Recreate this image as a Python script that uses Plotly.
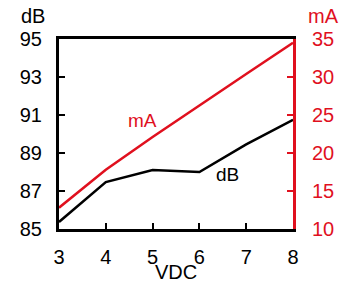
import plotly.graph_objects as go

vdc = [3, 4, 5, 6, 7, 8]
db_values = [85.37, 87.47, 88.1, 88.0, 89.45, 90.75]
ma_values = [12.8, 17.8, 22.1, 26.3, 30.4, 34.5]
db_ticks = [85, 87, 89, 91, 93, 95]
ma_ticks = [10, 15, 20, 25, 30, 35]
x_ticks = [3, 4, 5, 6, 7, 8]

RED = "#e0101e"
FONT = "Liberation Sans, Arial, sans-serif"

L, R, T, B = 59, 55, 39, 56
W, H = 348, 285
pw = W - L - R
ph = H - T - B


def px(xp):
    return (xp - L) / pw


def py(yp):
    return (H - B - yp) / ph


fig = go.Figure()
fig.add_trace(go.Scatter(x=vdc, y=db_values, mode="lines",
                         line=dict(color="black", width=2.5), yaxis="y"))
fig.add_trace(go.Scatter(x=vdc, y=ma_values, mode="lines",
                         line=dict(color=RED, width=2.5), yaxis="y2"))

fig.update_layout(
    width=W, height=H,
    margin=dict(l=L, r=R, t=T, b=B),
    paper_bgcolor="white", plot_bgcolor="white",
    showlegend=False,
    font=dict(family=FONT, size=20, color="black"),
    xaxis=dict(range=[3, 8], tickvals=x_ticks, showgrid=False, zeroline=False,
               showline=True, linecolor="black", linewidth=3, mirror=True,
               ticks="inside", ticklen=6, tickwidth=2, tickcolor="black",
               ticklabelstandoff=8, automargin=False),
    yaxis=dict(range=[85, 95], tickvals=db_ticks, showgrid=False, zeroline=False,
               showline=True, linecolor="black", linewidth=3,
               ticks="inside", ticklen=6, tickwidth=2, tickcolor="black",
               ticklabelstandoff=10, automargin=False),
    yaxis2=dict(range=[10, 35], tickvals=ma_ticks, overlaying="y", side="right",
                showgrid=False, zeroline=False,
                showline=True, linecolor=RED, linewidth=3,
                ticks="inside", ticklen=6, tickwidth=2, tickcolor=RED,
                tickfont=dict(color=RED), ticklabelstandoff=12, automargin=False),
)

fig.add_annotation(text="dB", x=px(33), y=py(16), xref="paper", yref="paper",
                   showarrow=False, xanchor="center", yanchor="middle",
                   font=dict(size=20, color="black"))
fig.add_annotation(text="mA", x=px(323), y=py(16), xref="paper", yref="paper",
                   showarrow=False, xanchor="center", yanchor="middle",
                   font=dict(size=20, color=RED))
fig.add_annotation(text="VDC", x=px(176), y=py(272), xref="paper", yref="paper",
                   showarrow=False, xanchor="center", yanchor="middle",
                   font=dict(size=20, color="black"))
fig.add_annotation(text="mA", x=4.79, y=24.3, xref="x", yref="y2", showarrow=False,
                   font=dict(size=19, color=RED))
fig.add_annotation(text="dB", x=6.61, y=87.85, xref="x", yref="y", showarrow=False,
                   font=dict(size=19, color="black"))

fig.write_html("out.html", config={"displayModeBar": False},
               post_script="document.body.style.margin='0';document.body.style.overflow='hidden';")
